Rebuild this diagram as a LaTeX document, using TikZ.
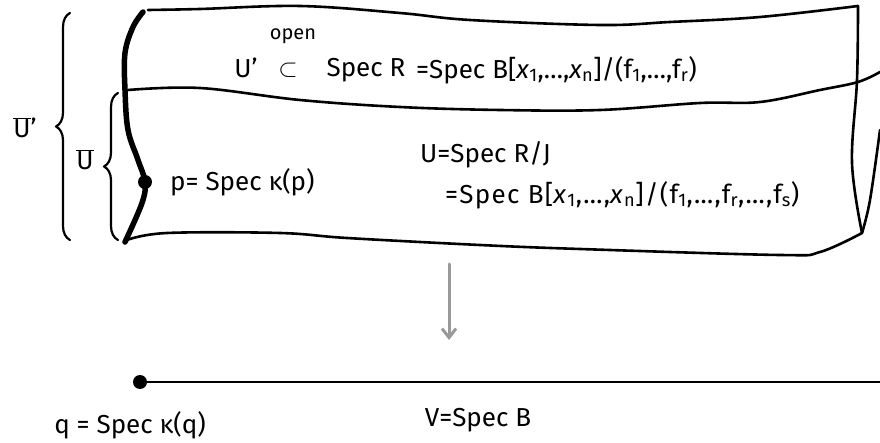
\documentclass[tikz,border=0pt]{standalone}
\usepackage{fontspec}
\setmainfont{Fira Sans}
\usetikzlibrary{arrows.meta,decorations.pathreplacing}
\newcommand{\xs}[1]{\textit{x}\textsubscript{#1}}
\newcommand{\fs}[1]{f\textsubscript{#1}}
\begin{document}
\begin{tikzpicture}[x=1pt,y=-1pt,line cap=round,line join=round,
  edge/.style={line width=2.6pt},
  thickedge/.style={line width=5.5pt},
  hand/.style={font=\fontsize{26}{30}\selectfont,inner sep=0pt},
  small/.style={font=\fontsize{20}{24}\selectfont,inner sep=0pt},
  bracestyle/.style={line width=2.2pt,decorate,decoration={brace,amplitude=14pt}},
  dotstyle/.style={circle,fill=black,inner sep=0pt,minimum size=14pt},
  maparrow/.style={line width=3pt,draw=gray!80,-{Straight Barb[length=9pt,width=14pt]}}]
\useasboundingbox (0,0) rectangle (880,443);
% boxes
\draw[edge] plot[smooth,tension=0.6] coordinates {(148,10) (200,9) (300,6) (400,13) (470,20) (600,25) (670,22) (760,17) (858,6)};
\draw[edge] plot[smooth,tension=0.6] coordinates {(128,90) (200,88) (300,100) (400,107) (500,110) (600,110) (700,103) (760,102) (820,90) (858,82) (880,72)};
\draw[edge] plot[smooth,tension=0.6] coordinates {(127,240) (167,233) (280,233) (347,238) (480,245) (580,249) (780,255) (820,252) (862,233)};
\draw[edge] plot[smooth,tension=0.6] coordinates {(858,6) (857,80) (852,163) (862,233)};
\draw[edge] plot[smooth,tension=0.6] coordinates {(880,130) (870,200) (862,233)};
\draw[thickedge] plot[smooth,tension=0.6] coordinates {(143,12) (133,27) (125,53) (125,90) (128,130) (138,160) (145,182) (142,203) (125,242)};
\node[dotstyle] (p) at (145,182) {};
% braces
\draw[bracestyle] (70,240) -- (70,13);
\draw[bracestyle] (118,240) -- (118,93);
\node[hand] (Ubarp) at (25,128) {$\overline{\hbox{U}}$'};
\node[hand] (Ubar) at (85,160) {$\overline{\hbox{U}}$};
% top box text
\node[hand] (Up) at (246,68) {U'};
\node[small] (open) at (293,36) {open};
\node[hand] (sub) at (288,70) {$\subset$};
\node[hand] (specR) at (366,70) {Spec R};
\node[hand,anchor=west] (eq1) at (416,70) {=Spec B[\xs{1},…,\xs{n}]/(\fs{1},…,\fs{r})};
% bottom box text
\node[hand,anchor=west] (ptext) at (170,182) {p= Spec κ(p)};
\node[hand,anchor=west] (U) at (420,155) {U=Spec R/J};
\node[hand,anchor=west] (eq2) at (445,195) {\addfontfeature{LetterSpace=5}=Spec B[\xs{1},…,\xs{n}]/(\fs{1},…,\fs{r},…,\fs{s})};
% map
\coordinate (a1) at (449,264);
\coordinate (a2) at (449,340);
\draw[maparrow] (a1) -- (a2);
% base
\node[dotstyle] (q) at (140,382) {};
\coordinate (qend) at (880,382);
\draw[edge] (q.center) -- (qend);
\node[hand] (qtext) at (130,425) {q = Spec κ(q)};
\node[hand] (V) at (478,420) {V=Spec B};
\end{tikzpicture}
\end{document}
